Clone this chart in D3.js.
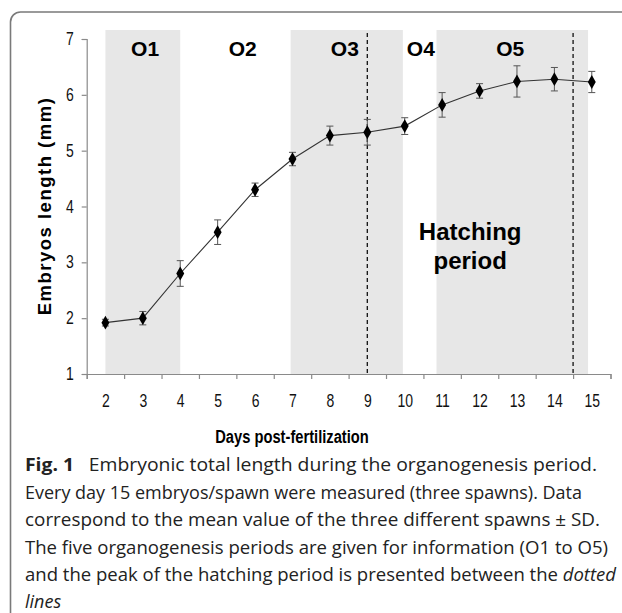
<html>
  <head>
    <meta charset="utf-8">
    <title>Embryonic length</title>
    <style>
    body{
      margin: 0;
      background-color: #fff;
    }
    svg{
      display: block;
    }
    </style>
    <script src="https://d3js.org/d3.v7.min.js"></script>
  </head>
  <body>
    <div id="container"></div>
    <script>
    // data
    var days = [2, 3, 4, 5, 6, 7, 8, 9, 10, 11, 12, 13, 14, 15];
    var meanLength = [1.92, 2.00, 2.80, 3.54, 4.30, 4.85, 5.27, 5.33, 5.44, 5.82, 6.07, 6.24, 6.28, 6.23];
    var sdLength = [0.06, 0.12, 0.23, 0.22, 0.12, 0.12, 0.17, 0.23, 0.15, 0.22, 0.13, 0.28, 0.21, 0.19];
    var yTicks = [1, 2, 3, 4, 5, 6, 7];
    var periodNames = ["O1", "O2", "O3", "O4", "O5"];
    var periodStart = [2, 4, 6.95, 9.95, 10.85];
    var periodEnd = [4, 6.95, 9.95, 10.85, 14.9];
    var periodShaded = [true, false, true, false, true];
    var hatchingLines = [9, 14.5];

    const width = 622,
          height = 613;

    var svg = d3.select("#container")
      .append("svg")
      .attr("width", width)
      .attr("height", height);

    // frame of the figure box (right and bottom edges run off the picture)
    svg.append("rect")
      .attr("x", 10.5)
      .attr("y", 12)
      .attr("width", 640)
      .attr("height", 620)
      .attr("rx", 10)
      .attr("fill", "none")
      .attr("stroke", "#7a7a7a")
      .attr("stroke-width", 1.6);

    // scales: categories sit between the tick marks, like an Excel chart
    var x = d3.scaleLinear().domain([1.5, 15.5]).range([86.7, 610.5]);
    var y = d3.scaleLinear().domain([1, 7]).range([374, 39]);
    var plotTop = 30;

    // shaded organogenesis periods
    svg.selectAll("rect.period")
      .data(periodNames.filter(function(d, i) { return periodShaded[i]; }))
      .enter()
      .append("rect")
      .attr("class", "period")
      .attr("x", function(d) { var i = periodNames.indexOf(d); return x(periodStart[i]); })
      .attr("y", plotTop)
      .attr("width", function(d) { var i = periodNames.indexOf(d); return x(periodEnd[i]) - x(periodStart[i]); })
      .attr("height", y(1) - plotTop)
      .attr("fill", "#e7e7e7");

    // period labels
    var labelDay = [3.06, 5.67, 8.4, 10.43, 12.82];
    svg.selectAll("text.period")
      .data(periodNames)
      .enter()
      .append("text")
      .attr("class", "period")
      .attr("x", function(d, i) { return x(labelDay[i]); })
      .attr("y", 56)
      .attr("text-anchor", "middle")
      .style("font-family", "Liberation Sans, Arial, sans-serif")
      .style("font-weight", "bold")
      .style("font-size", "21px")
      .text(function(d) { return d; });

    // hatching period text
    var hatch = svg.append("text")
      .attr("text-anchor", "middle")
      .style("font-family", "Liberation Sans, Arial, sans-serif")
      .style("font-weight", "bold")
      .style("font-size", "24px");
    hatch.append("tspan").attr("x", x(11.75)).attr("y", 240).text("Hatching");
    hatch.append("tspan").attr("x", x(11.75)).attr("y", 269).text("period");

    // dotted lines marking the hatching peak
    svg.selectAll("line.hatch")
      .data(hatchingLines)
      .enter()
      .append("line")
      .attr("class", "hatch")
      .attr("x1", function(d) { return x(d); })
      .attr("x2", function(d) { return x(d); })
      .attr("y1", 33)
      .attr("y2", y(1))
      .attr("stroke", "#111")
      .attr("stroke-width", 1.3)
      .attr("stroke-dasharray", "4,3");

    // axes; the original uses a narrow font, so squeeze Liberation Sans sideways
    var tickFont = "Liberation Sans, Arial, sans-serif";
    var narrow = 0.8;

    var yAxis = svg.append("g")
      .attr("transform", "translate(" + x(1.5) + ",0)")
      .call(d3.axisLeft(y).tickValues(yTicks).tickSize(5).tickPadding(8).tickFormat(d3.format("d")));
    yAxis.selectAll(".tick text")
      .attr("x", -13 / narrow)
      .attr("transform", "scale(" + narrow + ",1)");

    var xEdges = d3.range(1.5, 16, 1);
    var xAxis = svg.append("g")
      .attr("transform", "translate(0," + y(1) + ")")
      .call(d3.axisBottom(x).tickValues(xEdges).tickSize(5).tickFormat(""));

    var xLabels = svg.append("g")
      .attr("transform", "translate(0," + y(1) + ")")
      .call(d3.axisBottom(x).tickValues(days).tickSize(0).tickPadding(21).tickFormat(d3.format("d")));
    xLabels.select(".domain").remove();
    xLabels.selectAll(".tick text")
      .attr("transform", "scale(" + narrow + ",1)");

    [yAxis, xAxis].forEach(function(g) {
      g.select(".domain").attr("stroke", "#8a8a8a").attr("stroke-width", 1.2);
      g.selectAll(".tick line").attr("stroke", "#8a8a8a").attr("stroke-width", 1.2);
    });
    [yAxis, xLabels].forEach(function(g) {
      g.selectAll(".tick text")
        .attr("fill", "#111")
        .style("font-family", tickFont)
        .style("font-size", "17.5px");
    });

    // error bars
    var bars = svg.append("g")
      .attr("stroke", "#555")
      .attr("stroke-width", 1);
    days.forEach(function(d, i) {
      var lo = y(meanLength[i] - sdLength[i]), hi = y(meanLength[i] + sdLength[i]);
      bars.append("line").attr("x1", x(d)).attr("x2", x(d)).attr("y1", lo).attr("y2", hi);
      bars.append("line").attr("x1", x(d) - 3.5).attr("x2", x(d) + 3.5).attr("y1", lo).attr("y2", lo);
      bars.append("line").attr("x1", x(d) - 3.5).attr("x2", x(d) + 3.5).attr("y1", hi).attr("y2", hi);
    });

    // mean line
    var line = d3.line()
      .x(function(d, i) { return x(days[i]); })
      .y(function(d) { return y(d); });
    svg.append("path")
      .datum(meanLength)
      .attr("d", line)
      .attr("fill", "none")
      .attr("stroke", "#333")
      .attr("stroke-width", 1.1);

    // diamond markers
    svg.selectAll("path.marker")
      .data(meanLength)
      .enter()
      .append("path")
      .attr("class", "marker")
      .attr("d", d3.symbol().type(d3.symbolDiamond).size(55))
      .attr("transform", function(d, i) { return "translate(" + x(days[i]) + "," + y(d) + ")"; })
      .attr("fill", "#000");

    // axis titles
    svg.append("text")
      .attr("transform", "translate(51,206) rotate(-90)")
      .attr("text-anchor", "middle")
      .style("font-family", "Liberation Sans, Arial, sans-serif")
      .style("font-weight", "bold")
      .style("font-size", "18.5px")
      .style("letter-spacing", "1.5px")
      .text("Embryos length (mm)");

    svg.append("text")
      .attr("transform", "translate(292,443) scale(0.84,1)")
      .attr("text-anchor", "middle")
      .style("font-family", tickFont)
      .style("font-weight", "bold")
      .style("font-size", "17.5px")
      .text("Days post-fertilization");

    // caption, one text per line, each stretched to the width it has in the original
    function captionLine(yPos, fitWidth) {
      var t = svg.append("text")
        .attr("x", 25)
        .attr("y", yPos)
        .attr("fill", "#222")
        .style("font-family", "Open Sans, Noto Sans, sans-serif")
        .style("font-size", "18px");
      if (fitWidth) {
        t.attr("textLength", fitWidth).attr("lengthAdjust", "spacingAndGlyphs");
      }
      return t;
    }
    var l1 = captionLine(471, 572);
    l1.append("tspan").style("font-weight", "bold").text("Fig. 1");
    l1.append("tspan").text("\u2002 Embryonic total length during the organogenesis period.");
    captionLine(498.5, 557)
      .text("Every day 15 embryos/spawn were measured (three spawns). Data");
    captionLine(526, 575)
      .text("correspond to the mean value of the three different spawns \u00b1 SD.");
    captionLine(553.5, 583)
      .text("The five organogenesis periods are given for information (O1 to O5)");
    var l5 = captionLine(581, 591);
    l5.append("tspan").text("and the peak of the hatching period is presented between the ");
    l5.append("tspan").style("font-style", "italic").text("dotted");
    captionLine(607.5, 0)
      .style("font-style", "italic")
      .text("lines");
    </script>
  </body>
</html>
